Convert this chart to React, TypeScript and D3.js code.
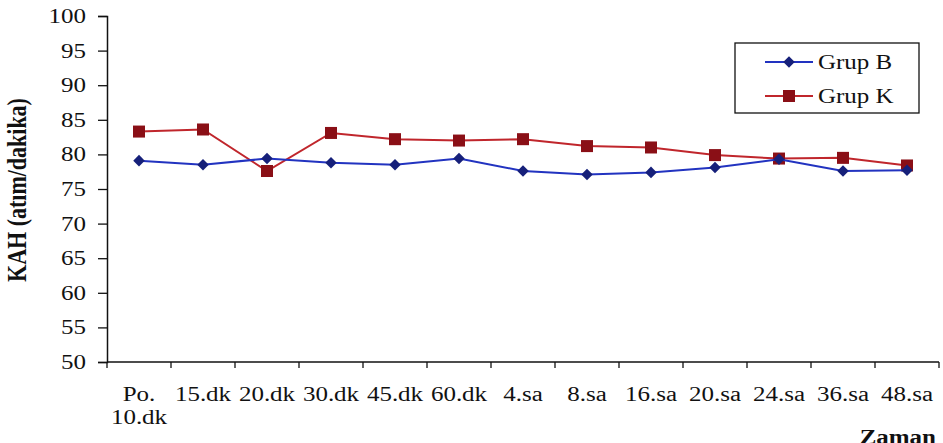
import React, { useEffect, useRef } from "react";
import * as d3 from "d3";

const categories = [
  "Po. 10.dk", "15.dk", "20.dk", "30.dk", "45.dk", "60.dk", "4.sa",
  "8.sa", "16.sa", "20.sa", "24.sa", "36.sa", "48.sa",
];
const grupB = [79.1, 78.5, 79.4, 78.8, 78.5, 79.4, 77.6, 77.1, 77.4, 78.1, 79.3, 77.6, 77.7];
const grupK = [83.3, 83.6, 77.6, 83.1, 82.2, 82.0, 82.2, 81.2, 81.0, 79.9, 79.4, 79.5, 78.4];
const yTicks = [50, 55, 60, 65, 70, 75, 80, 85, 90, 95, 100];

const W = 943;
const H = 443;
const M = { left: 107, right: 4, top: 16, bottom: 81 };
const FONT = "'Liberation Serif', 'Times New Roman', serif";
const SX = 1.25; // horizontal widening of the lettering

type Sel = d3.Selection<any, any, any, any>;

// text drawn in a group so its glyphs can be widened horizontally
function wideText(
  parent: Sel, x: number, y: number, s: string,
  opts: { anchor?: string; size?: number; bold?: boolean; rotate?: number } = {}
) {
  const g = parent.append("g")
    .attr("transform", `translate(${x},${y}) scale(${SX},1)${opts.rotate ? ` rotate(${opts.rotate})` : ""}`);
  g.append("text")
    .attr("x", 0).attr("y", 0)
    .attr("text-anchor", opts.anchor ?? "start")
    .attr("font-family", FONT)
    .attr("font-size", opts.size ?? 20)
    .attr("font-weight", opts.bold ? "bold" : "normal")
    .attr("fill", "#111")
    .text(s);
  return g;
}

export default function App() {
  const ref = useRef<SVGSVGElement | null>(null);

  useEffect(() => {
    const svg = d3.select(ref.current);
    svg.selectAll("*").remove();

    const x = d3.scaleBand<string>().domain(categories).range([M.left, W - M.right]).padding(0);
    const y = d3.scaleLinear().domain([50, 100]).range([H - M.bottom, M.top]);
    const base = H - M.bottom;

    // y axis
    const yAxis = svg.append("g").attr("transform", `translate(${M.left},0)`)
      .call(d3.axisLeft(y).tickValues(yTicks).tickSize(9).tickFormat(() => ""));
    yAxis.select(".domain").attr("stroke", "#111").attr("stroke-width", 1.5);
    yAxis.selectAll(".tick line").attr("stroke", "#111").attr("stroke-width", 1.3);
    yTicks.forEach((t) => wideText(svg, 86, y(t) + 7, String(t), { anchor: "end" }));

    // x axis: ticks sit on band edges
    svg.append("line")
      .attr("x1", M.left).attr("x2", W - M.right)
      .attr("y1", base).attr("y2", base)
      .attr("stroke", "#111").attr("stroke-width", 1.5);
    const edges = categories.map((c) => x(c) as number).concat([W - M.right]);
    svg.selectAll("line.tk").data(edges).enter().append("line")
      .attr("class", "tk")
      .attr("x1", (d) => d).attr("x2", (d) => d)
      .attr("y1", base).attr("y2", base + 6)
      .attr("stroke", "#111").attr("stroke-width", 1.3);
    categories.forEach((c) => {
      const mid = (x(c) as number) + x.bandwidth() / 2;
      c.split(" ").forEach((part, i) => {
        wideText(svg, mid, base + 39 + i * 23, part, { anchor: "middle" });
      });
    });

    // axis titles
    wideText(svg, 26, (M.top + base) / 2 + 1, "KAH (atım/dakika)", { anchor: "middle", bold: true, rotate: -90, size: 22 });
    wideText(svg, 936, 444, "Zaman", { anchor: "end", bold: true });

    const cx = (i: number) => (x(categories[i]) as number) + x.bandwidth() / 2;
    const line = d3.line<number>().x((_, i) => cx(i)).y((d) => y(d));

    // Grup K
    svg.append("path").datum(grupK).attr("d", line)
      .attr("fill", "none").attr("stroke", "#c0262c").attr("stroke-width", 2);
    svg.selectAll("rect.k").data(grupK).enter().append("rect")
      .attr("class", "k")
      .attr("x", (_, i) => cx(i) - 6).attr("y", (d) => y(d) - 6)
      .attr("width", 12).attr("height", 12).attr("fill", "#8a0f16");

    // Grup B
    const diamond = d3.symbol().type(d3.symbolDiamond2).size(85);
    svg.append("path").datum(grupB).attr("d", line)
      .attr("fill", "none").attr("stroke", "#2233c0").attr("stroke-width", 2);
    svg.selectAll("path.b").data(grupB).enter().append("path")
      .attr("class", "b")
      .attr("d", diamond as any)
      .attr("transform", (d, i) => `translate(${cx(i)},${y(d)})`)
      .attr("fill", "#16207a");

    // legend
    const lg = svg.append("g");
    lg.append("rect").attr("x", 735).attr("y", 43).attr("width", 184).attr("height", 70)
      .attr("fill", "#fff").attr("stroke", "#111").attr("stroke-width", 1.3);
    const rows = [
      { name: "Grup B", color: "#2233c0", mark: "#16207a", sq: false, yy: 62 },
      { name: "Grup K", color: "#c0262c", mark: "#8a0f16", sq: true, yy: 96 },
    ];
    rows.forEach((r) => {
      lg.append("line").attr("x1", 765).attr("x2", 813).attr("y1", r.yy).attr("y2", r.yy)
        .attr("stroke", r.color).attr("stroke-width", 2);
      if (r.sq) {
        lg.append("rect").attr("x", 783).attr("y", r.yy - 6).attr("width", 12).attr("height", 12).attr("fill", r.mark);
      } else {
        lg.append("path").attr("d", diamond as any).attr("transform", `translate(789,${r.yy})`).attr("fill", r.mark);
      }
      wideText(lg, 818, r.yy + 7, r.name);
    });
  }, []);

  return (
    <div style={{ position: "fixed", left: 0, top: 0 }}>
      <svg ref={ref} width={W} height={H} style={{ display: "block", background: "#fff" }} />
    </div>
  );
}
